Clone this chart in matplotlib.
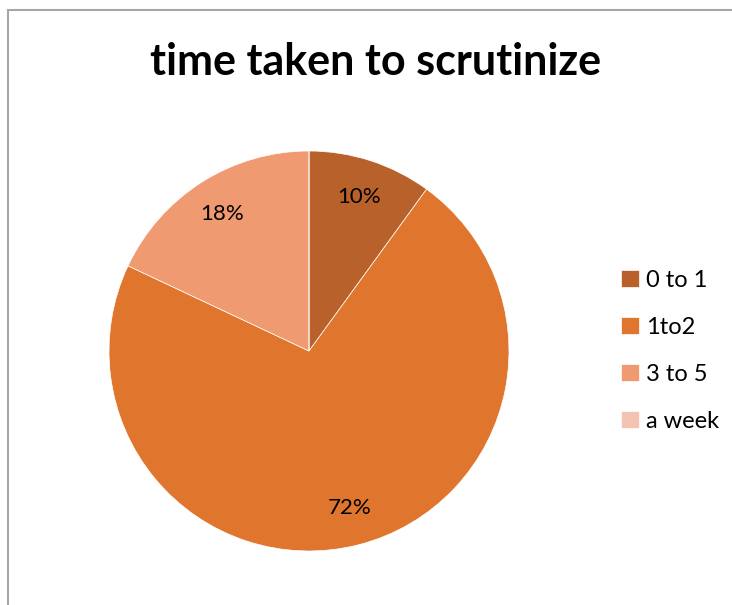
import matplotlib
matplotlib.use('Agg')
import matplotlib.pyplot as plt
from matplotlib.patches import Rectangle

labels = ['0 to 1', '1to2', '3 to 5', 'a week']
shares = [10, 72, 18, 0]
colors = ['#B9612A', '#E0752E', '#F09A71', '#F5C3B2']

plt.rcParams['font.family'] = ['Lato', 'DejaVu Sans']

W, H = 732, 605
fig = plt.figure(figsize=(W / 100, H / 100), dpi=100)

# thin grey frame, cut off at right and bottom
fig.patches.append(Rectangle((8 / W, -0.1), 1.2, (H - 10) / H + 0.1,
                             transform=fig.transFigure, fill=False,
                             edgecolor='#A6A6A6', linewidth=1.5))

fig.text(376 / W, 1 - 62 / H, 'time taken to scrutinize', ha='center', va='center',
         fontsize=31, fontweight='bold')

cx, cy, r = 309, 351, 200
ax = fig.add_axes([(cx - r) / W, (H - cy - r) / H, 2 * r / W, 2 * r / H])
wedges, texts, autotexts = ax.pie(
    shares, colors=colors, startangle=90, counterclock=False,
    autopct=lambda p: f'{p:.0f}%' if p > 0 else '', pctdistance=0.81,
    wedgeprops=dict(edgecolor='white', linewidth=0.5))
for t in autotexts:
    t.set_fontsize(16)
ax.set_xlim(-1, 1)
ax.set_ylim(-1, 1)
ax.set_aspect('equal')

leg = fig.legend(wedges, labels, loc='center left', bbox_to_anchor=(600 / W, 1 - 351 / H),
                 frameon=False, fontsize=17, handlelength=0.75, handleheight=0.75,
                 handletextpad=0.3, labelspacing=1.1)

fig.savefig('out.png', dpi=100)
